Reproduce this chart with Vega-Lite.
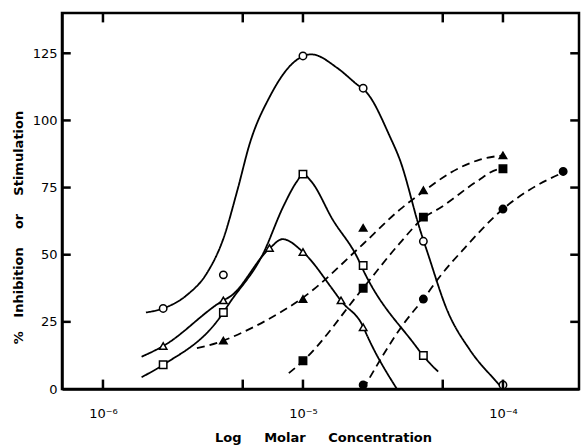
{
  "$schema": "https://vega.github.io/schema/vega-lite/v6.json",
  "width": 517,
  "height": 376,
  "autosize": {"type": "none"},
  "padding": {"left": 62, "top": 13, "right": 3, "bottom": 58},
  "background": "white",
  "config": {
    "view": {"stroke": "black", "strokeWidth": 2.5},
    "font": "DejaVu Sans",
    "axis": {"grid": false, "domainColor": "black", "domainWidth": 2.5, "labelColor": "black", "titleColor": "black", "labelFont": "DejaVu Sans", "titleFont": "DejaVu Sans"}
  },
  "datasets": {
    "curves": [
      {"series": "open circle", "conc": 1.64e-6, "pct": 28.5},
      {"series": "open circle", "conc": 2e-6, "pct": 30},
      {"series": "open circle", "conc": 2.63e-6, "pct": 35},
      {"series": "open circle", "conc": 3.3e-6, "pct": 43},
      {"series": "open circle", "conc": 4e-6, "pct": 56},
      {"series": "open circle", "conc": 4.7e-6, "pct": 74},
      {"series": "open circle", "conc": 5.43e-6, "pct": 91.6},
      {"series": "open circle", "conc": 6.84e-6, "pct": 109},
      {"series": "open circle", "conc": 8.95e-6, "pct": 121.5},
      {"series": "open circle", "conc": 1.1e-5, "pct": 124.6},
      {"series": "open circle", "conc": 1.48e-5, "pct": 119.6},
      {"series": "open circle", "conc": 1.82e-5, "pct": 114},
      {"series": "open circle", "conc": 2.12e-5, "pct": 109.7},
      {"series": "open circle", "conc": 2.72e-5, "pct": 94},
      {"series": "open circle", "conc": 3.05e-5, "pct": 85.4},
      {"series": "open circle", "conc": 3.85e-5, "pct": 59.3},
      {"series": "open circle", "conc": 4.23e-5, "pct": 50},
      {"series": "open circle", "conc": 5.25e-5, "pct": 29.5},
      {"series": "open circle", "conc": 6.84e-5, "pct": 14.5},
      {"series": "open circle", "conc": 9.1e-5, "pct": 3.4},
      {"series": "open circle", "conc": 1e-4, "pct": 0},
      {"series": "open square", "conc": 1.56e-6, "pct": 4.4},
      {"series": "open square", "conc": 2e-6, "pct": 9},
      {"series": "open square", "conc": 4e-6, "pct": 28.5},
      {"series": "open square", "conc": 4.23e-6, "pct": 31.3},
      {"series": "open square", "conc": 6.34e-6, "pct": 50.6},
      {"series": "open square", "conc": 7.98e-6, "pct": 68},
      {"series": "open square", "conc": 9.33e-6, "pct": 77.3},
      {"series": "open square", "conc": 1e-5, "pct": 80},
      {"series": "open square", "conc": 1.1e-5, "pct": 77.3},
      {"series": "open square", "conc": 1.41e-5, "pct": 63},
      {"series": "open square", "conc": 1.86e-5, "pct": 49.3},
      {"series": "open square", "conc": 2.04e-5, "pct": 43},
      {"series": "open square", "conc": 3.63e-5, "pct": 16.4},
      {"series": "open square", "conc": 4e-5, "pct": 12.3},
      {"series": "open square", "conc": 4.23e-5, "pct": 10.2},
      {"series": "open square", "conc": 4.74e-5, "pct": 6.5},
      {"series": "open triangle", "conc": 1.56e-6, "pct": 12},
      {"series": "open triangle", "conc": 2e-6, "pct": 16},
      {"series": "open triangle", "conc": 4e-6, "pct": 33},
      {"series": "open triangle", "conc": 4.32e-6, "pct": 34.4},
      {"series": "open triangle", "conc": 6.8e-6, "pct": 52.3},
      {"series": "open triangle", "conc": 7.9e-6, "pct": 55.8},
      {"series": "open triangle", "conc": 1e-5, "pct": 51},
      {"series": "open triangle", "conc": 1.41e-5, "pct": 37},
      {"series": "open triangle", "conc": 1.55e-5, "pct": 32.8},
      {"series": "open triangle", "conc": 2e-5, "pct": 23.2},
      {"series": "open triangle", "conc": 2.09e-5, "pct": 20},
      {"series": "open triangle", "conc": 2.95e-5, "pct": 0},
      {"series": "filled triangle", "conc": 2.95e-6, "pct": 15.2},
      {"series": "filled triangle", "conc": 4e-6, "pct": 18},
      {"series": "filled triangle", "conc": 4.47e-6, "pct": 19.5},
      {"series": "filled triangle", "conc": 6.61e-6, "pct": 25.7},
      {"series": "filled triangle", "conc": 1e-5, "pct": 34},
      {"series": "filled triangle", "conc": 2e-5, "pct": 54},
      {"series": "filled triangle", "conc": 3.05e-5, "pct": 66.8},
      {"series": "filled triangle", "conc": 4e-5, "pct": 73.5},
      {"series": "filled triangle", "conc": 5.43e-5, "pct": 80.4},
      {"series": "filled triangle", "conc": 7.67e-5, "pct": 85.4},
      {"series": "filled triangle", "conc": 1e-4, "pct": 87},
      {"series": "filled square", "conc": 8.5e-6, "pct": 5.9},
      {"series": "filled square", "conc": 1e-5, "pct": 10.4},
      {"series": "filled square", "conc": 2e-5, "pct": 37.6},
      {"series": "filled square", "conc": 3.05e-5, "pct": 54.3},
      {"series": "filled square", "conc": 4e-5, "pct": 63.7},
      {"series": "filled square", "conc": 4.84e-5, "pct": 67.4},
      {"series": "filled square", "conc": 7.41e-5, "pct": 77.3},
      {"series": "filled square", "conc": 9.33e-5, "pct": 81.7},
      {"series": "filled square", "conc": 1e-4, "pct": 82},
      {"series": "filled circle", "conc": 2e-5, "pct": 0},
      {"series": "filled circle", "conc": 3.24e-5, "pct": 25},
      {"series": "filled circle", "conc": 4e-5, "pct": 33.5},
      {"series": "filled circle", "conc": 4.84e-5, "pct": 41.9},
      {"series": "filled circle", "conc": 6.31e-5, "pct": 51.8},
      {"series": "filled circle", "conc": 1e-4, "pct": 67},
      {"series": "filled circle", "conc": 1.36e-4, "pct": 74.2},
      {"series": "filled circle", "conc": 2e-4, "pct": 80.6}
    ],
    "pts": [
      {"series": "open circle", "conc": 2e-6, "pct": 30},
      {"series": "open circle", "conc": 4e-6, "pct": 42.5},
      {"series": "open circle", "conc": 1e-5, "pct": 124},
      {"series": "open circle", "conc": 2e-5, "pct": 112},
      {"series": "open circle", "conc": 4e-5, "pct": 55},
      {"series": "open circle", "conc": 1e-4, "pct": 1.5},
      {"series": "open triangle", "conc": 2e-6, "pct": 16},
      {"series": "open triangle", "conc": 4e-6, "pct": 33},
      {"series": "open triangle", "conc": 6.8e-6, "pct": 52.5},
      {"series": "open triangle", "conc": 1e-5, "pct": 51},
      {"series": "open triangle", "conc": 1.55e-5, "pct": 33},
      {"series": "open triangle", "conc": 2e-5, "pct": 23},
      {"series": "open square", "conc": 2e-6, "pct": 9},
      {"series": "open square", "conc": 4e-6, "pct": 28.5},
      {"series": "open square", "conc": 1e-5, "pct": 80},
      {"series": "open square", "conc": 2e-5, "pct": 46},
      {"series": "open square", "conc": 4e-5, "pct": 12.5},
      {"series": "filled triangle", "conc": 4e-6, "pct": 18},
      {"series": "filled triangle", "conc": 1e-5, "pct": 33.5},
      {"series": "filled triangle", "conc": 2e-5, "pct": 60},
      {"series": "filled triangle", "conc": 4e-5, "pct": 74},
      {"series": "filled triangle", "conc": 1e-4, "pct": 87},
      {"series": "filled square", "conc": 1e-5, "pct": 10.5},
      {"series": "filled square", "conc": 2e-5, "pct": 37.5},
      {"series": "filled square", "conc": 4e-5, "pct": 64},
      {"series": "filled square", "conc": 1e-4, "pct": 82},
      {"series": "filled circle", "conc": 2e-5, "pct": 1.5},
      {"series": "filled circle", "conc": 4e-5, "pct": 33.5},
      {"series": "filled circle", "conc": 1e-4, "pct": 67},
      {"series": "filled circle", "conc": 2e-4, "pct": 81}
    ],
    "xticks": [{"conc": 1e-6}, {"conc": 5e-6}, {"conc": 1e-5}, {"conc": 5e-5}, {"conc": 1e-4}],
    "yticks": [{"pct": 25}, {"pct": 50}, {"pct": 75}, {"pct": 100}, {"pct": 125}]
  },
  "layer": [
    {
      "data": {"name": "curves"},
      "mark": {"type": "line", "interpolate": "monotone", "color": "black", "strokeWidth": 1.8},
      "encoding": {
        "x": {"field": "conc", "type": "quantitative", "scale": {"type": "log", "domain": [6.24e-7, 2.4e-4], "nice": false},
          "axis": {"orient": "bottom", "values": [1e-6, 1e-5, 1e-4], "ticks": false, "labelExpr": "datum.value > 9e-7 && datum.value < 1.1e-6 ? '10⁻⁶' : datum.value > 9e-6 && datum.value < 1.1e-5 ? '10⁻⁵' : datum.value > 9e-5 && datum.value < 1.1e-4 ? '10⁻⁴' : ''", "labelFontSize": 13, "labelPadding": 18, "labelDx": 4, "title": "Log\u00a0\u00a0\u00a0\u00a0\u00a0Molar\u00a0\u00a0\u00a0\u00a0\u00a0Concentration", "titleFontSize": 13, "titleFontWeight": "bold", "titleX": 261, "titleY": 52, "titleBaseline": "alphabetic", "titleAlign": "center"}},
        "y": {"field": "pct", "type": "quantitative", "scale": {"domain": [0, 140], "nice": false},
          "axis": {"orient": "left", "values": [0, 25, 50, 75, 100, 125], "ticks": false, "labelFontSize": 13, "labelPadding": 5, "title": "%\u00a0\u00a0\u00a0Inhibition\u00a0\u00a0\u00a0\u00a0or\u00a0\u00a0\u00a0\u00a0Stimulation", "titleFontSize": 13, "titleFontWeight": "bold", "titleX": -44, "titleY": 214, "titleAngle": -90, "titleAlign": "center", "titleBaseline": "middle"}},
        "detail": {"field": "series"},
        "strokeDash": {"field": "series", "type": "nominal", "legend": null,
          "scale": {"domain": ["open circle", "open triangle", "open square", "filled triangle", "filled square", "filled circle"], "range": [[1, 0], [1, 0], [1, 0], [8, 5], [8, 5], [8, 5]]}}
      }
    },
    {
      "data": {"name": "pts"},
      "mark": {"type": "point", "filled": false, "stroke": "black", "strokeWidth": 1.5, "opacity": 1, "size": 55},
      "encoding": {
        "x": {"field": "conc", "type": "quantitative"},
        "y": {"field": "pct", "type": "quantitative"},
        "shape": {"field": "series", "type": "nominal", "legend": null,
          "scale": {"domain": ["open circle", "open triangle", "open square", "filled triangle", "filled square", "filled circle"], "range": ["circle", "triangle-up", "square", "triangle-up", "square", "circle"]}},
        "fill": {"field": "series", "type": "nominal", "legend": null,
          "scale": {"domain": ["open circle", "open triangle", "open square", "filled triangle", "filled square", "filled circle"], "range": ["white", "white", "white", "black", "black", "black"]}}
      }
    },
    {
      "data": {"name": "xticks"},
      "mark": {"type": "rule", "color": "black", "strokeWidth": 2.5},
      "encoding": {
        "x": {"field": "conc", "type": "quantitative"},
        "y": {"datum": 0, "type": "quantitative"},
        "y2": {"datum": 3.5}
      }
    },
    {
      "data": {"name": "xticks"},
      "mark": {"type": "rule", "color": "black", "strokeWidth": 2.5},
      "encoding": {
        "x": {"field": "conc", "type": "quantitative"},
        "y": {"datum": 140, "type": "quantitative"},
        "y2": {"datum": 136.5}
      }
    },
    {
      "data": {"name": "yticks"},
      "mark": {"type": "rule", "color": "black", "strokeWidth": 2.5},
      "encoding": {
        "y": {"field": "pct", "type": "quantitative"},
        "x": {"datum": 6.24e-7, "type": "quantitative"},
        "x2": {"datum": 6.9e-7}
      }
    },
    {
      "data": {"name": "yticks"},
      "mark": {"type": "rule", "color": "black", "strokeWidth": 2.5},
      "encoding": {
        "y": {"field": "pct", "type": "quantitative"},
        "x": {"datum": 2.4e-4, "type": "quantitative"},
        "x2": {"datum": 2.17e-4}
      }
    }
  ]
}
